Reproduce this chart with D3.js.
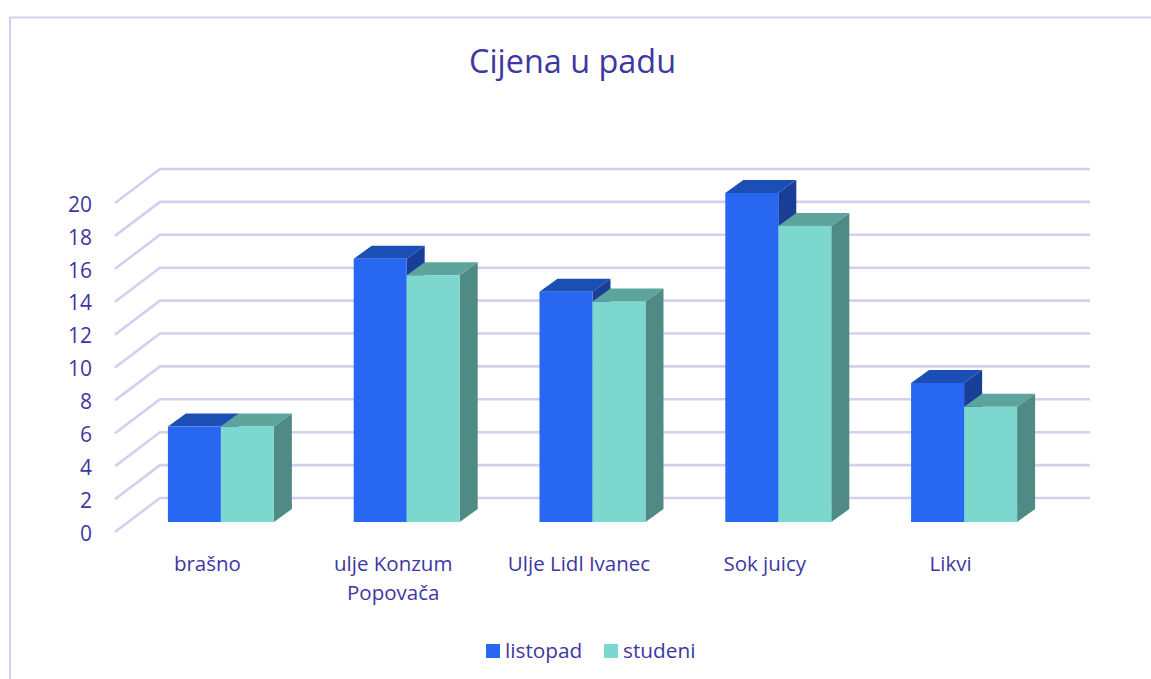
<!DOCTYPE html>
<html>
<head>
<meta charset="utf-8">
<script src="https://cdnjs.cloudflare.com/ajax/libs/d3/7.8.5/d3.min.js"></script>
<style>
    html, body { margin: 0; padding: 0; background: #fff; }
    svg { display: block; }
    text { font-family: "Open Sans", "Noto Sans", sans-serif; fill: #3e37a1; }
</style>
</head>
<body>
<div id="chart"></div>
<script>
// data
const categories = ["brašno", "ulje Konzum|Popovača", "Ulje Lidl Ivanec", "Sok juicy", "Likvi"];
const seriesNames = ["listopad", "studeni"];
const listopad = [5.8, 16, 14, 20, 8.45];
const studeni = [5.8, 15, 13.4, 18, 7];
const yTicks = [0, 2, 4, 6, 8, 10, 12, 14, 16, 18, 20];

const width = 1151, height = 679;
const gridColor = "#d3cfef";

// front, top and side colour per series
const faces = {
    listopad: {front: "#2767f2", top: "#1c4fb5", side: "#183e97"},
    studeni: {front: "#7cd7cf", top: "#5da49c", side: "#4f8a84"}
};

const svg = d3.select("#chart").append("svg")
    .attr("width", width)
    .attr("height", height);

// frame, only left and top are visible in the crop
svg.append("path")
    .attr("d", `M10,${height} V17.5 H${width}`)
    .attr("fill", "none")
    .attr("stroke", gridColor)
    .attr("stroke-width", 2);

svg.append("text")
    .text("Cijena u padu")
    .attr("x", 572.5)
    .attr("y", 73)
    .attr("text-anchor", "middle")
    .style("font-size", "32.4px");

let yScale = d3.scaleLinear().domain([0, 20]).range([532, 203]);
let xScale = d3.scaleBand().domain(categories).range([128, 1057]).paddingInner(0.4295).paddingOuter(0.21475);
let xSeries = d3.scaleBand().domain(seriesNames).range([0, xScale.bandwidth()]);

// depth of the back wall and of the bars
const wallDx = 45, wallDy = 34;
const barDx = 18, barDy = 13;
const barBase = 10;

// gridlines: diagonal on the side wall, then straight on the back wall
svg.append("g")
    .selectAll("path")
    .data(yTicks)
    .enter()
    .append("path")
    .attr("d", d => `M115,${yScale(d)} l${wallDx},${-wallDy} H1090`)
    .attr("fill", "none")
    .attr("stroke", gridColor)
    .attr("stroke-width", 2.6);

// y axis labels only
let yAxis = svg.append("g")
    .attr("transform", "translate(92,1.5)")
    .call(d3.axisLeft(yScale).tickValues(yTicks).tickSize(0).tickPadding(0));
yAxis.select(".domain").remove();
yAxis.selectAll("text")
    .attr("fill", null)
    .style("font-family", '"Open Sans", "Noto Sans", sans-serif')
    .style("font-size", "21px");

// build bars
let bars = [];
categories.forEach((c, i) => {
    bars.push({category: c, series: "listopad", value: listopad[i]});
    bars.push({category: c, series: "studeni", value: studeni[i]});
});

let bar = svg.append("g")
    .selectAll("g")
    .data(bars)
    .enter()
    .append("g")
    .attr("transform", d => `translate(${xScale(d.category) + xSeries(d.series)}, 0)`);

let w = xSeries.bandwidth();

bar.append("path")
    .attr("fill", d => faces[d.series].side)
    .attr("d", d => {
        let top = yScale(d.value) - barBase, bottom = yScale(0) - barBase;
        return `M${w},${top} l${barDx},${-barDy} V${bottom - barDy} L${w},${bottom} Z`;
    });

bar.append("path")
    .attr("fill", d => faces[d.series].top)
    .attr("d", d => {
        let top = yScale(d.value) - barBase;
        return `M0,${top} l${barDx},${-barDy} h${w} l${-barDx},${barDy} Z`;
    });

bar.append("rect")
    .attr("fill", d => faces[d.series].front)
    .attr("x", 0)
    .attr("y", d => yScale(d.value) - barBase)
    .attr("width", w)
    .attr("height", d => yScale(0) - yScale(d.value));

// category labels, "|" marks a line break
let labels = svg.append("g")
    .selectAll("text")
    .data(categories)
    .enter()
    .append("text")
    .attr("text-anchor", "middle")
    .attr("y", 571)
    .style("font-size", "20.5px");

labels.selectAll("tspan")
    .data(d => d.split("|").map(line => ({line: line, category: d})))
    .enter()
    .append("tspan")
    .attr("x", d => xScale(d.category) + xScale.bandwidth() / 2 - 13.5)
    .attr("dy", (d, i) => i === 0 ? 0 : 29)
    .text(d => d.line);

// legend
const legendX = d3.scaleOrdinal().domain(seriesNames).range([486, 604]);

let legend = svg.append("g")
    .selectAll("g")
    .data(seriesNames)
    .enter()
    .append("g")
    .attr("transform", d => `translate(${legendX(d)}, 644)`);

legend.append("rect")
    .attr("width", 14)
    .attr("height", 14)
    .attr("fill", d => faces[d].front);

legend.append("text")
    .text(d => d)
    .attr("x", 19)
    .attr("y", 14)
    .style("font-size", "20.8px");
</script>
</body>
</html>
